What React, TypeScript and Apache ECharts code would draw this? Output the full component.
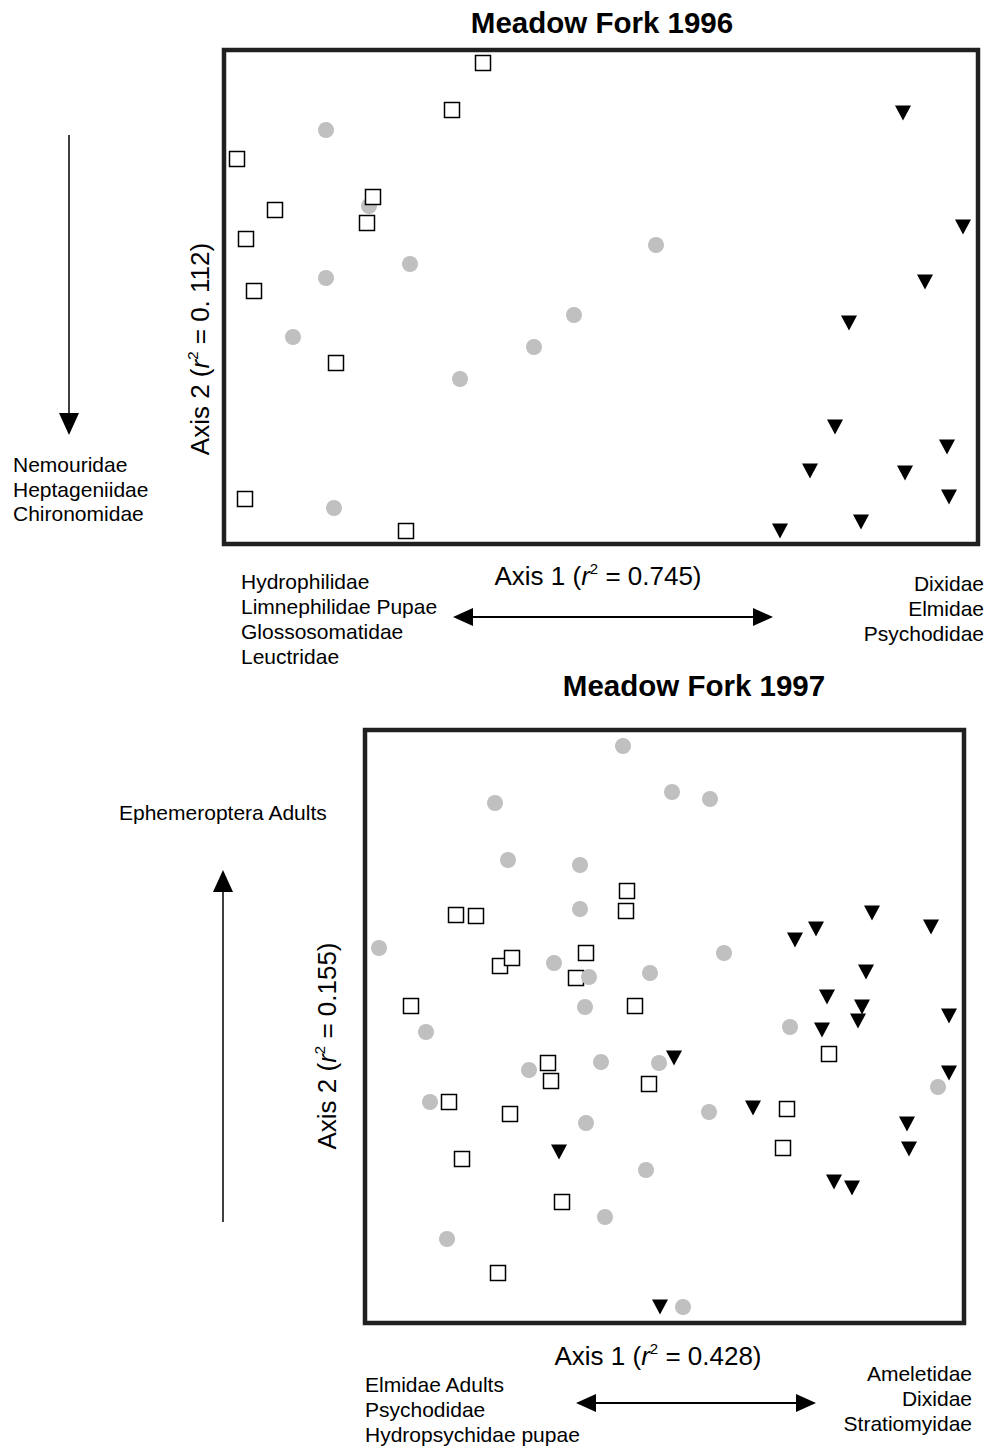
import React, { useEffect, useRef } from "react";
import * as echarts from "echarts";

const FONT = '"Liberation Sans", Arial, Helvetica, sans-serif';

// ---------- Meadow Fork 1996 (axis units) ----------
const axis1Range1996 = [0, 754];
const axis2Range1996 = [0, 494];
const circles1996: number[][] = [
  [102, 414], [145, 338], [186, 280], [102, 266], [432, 299],
  [69, 207], [236, 165], [310, 197], [350, 229], [110, 36],
];
const squares1996: number[][] = [
  [259, 481], [228, 434], [13, 385], [149, 347], [51, 334], [143, 321],
  [22, 305], [30, 253], [112, 181], [21, 45], [182, 13],
];
const triangles1996: number[][] = [
  [679, 431], [739, 317], [701, 262], [625, 221], [611, 117], [723, 97],
  [586, 73], [681, 71], [725, 47], [637, 22], [556, 13],
];

// ---------- Meadow Fork 1997 ----------
const axis1Range1997 = [0, 599];
const axis2Range1997 = [0, 593];
const circles1997: number[][] = [
  [258, 577], [130, 520], [307, 531], [345, 524], [143, 463], [215, 458],
  [215, 414], [14, 375], [359, 370], [189, 360], [224, 346], [285, 350],
  [220, 316], [425, 296], [61, 291], [164, 253], [236, 261], [294, 260],
  [573, 236], [65, 221], [344, 211], [221, 200], [281, 153], [240, 106],
  [82, 84], [318, 16],
];
const squares1997: number[][] = [
  [262, 432], [261, 412], [91, 408], [111, 407], [135, 357], [147, 365],
  [221, 370], [211, 345], [46, 317], [270, 317], [464, 269], [183, 260],
  [186, 242], [284, 239], [84, 221], [422, 214], [145, 209], [418, 175],
  [97, 164], [197, 121], [133, 50],
];
const triangles1997: number[][] = [
  [507, 410], [566, 396], [451, 394], [430, 383], [501, 351], [462, 326],
  [497, 316], [493, 302], [584, 307], [457, 293], [309, 265], [584, 250],
  [388, 215], [542, 199], [544, 174], [194, 171], [469, 141], [487, 135],
  [295, 16],
];

// ---------- texts ----------
const titles = ["Meadow Fork 1996", "Meadow Fork 1997"];
const axis1Labels = ["0.745", "0.428"];
const axis2Labels = ["0. 112", "0.155"];
const taxaAxis2Neg1996 = ["Nemouridae", "Heptageniidae", "Chironomidae"];
const taxaAxis1Neg1996 = ["Hydrophilidae", "Limnephilidae Pupae", "Glossosomatidae", "Leuctridae"];
const taxaAxis1Pos1996 = ["Dixidae", "Elmidae", "Psychodidae"];
const taxaAxis2Pos1997 = ["Ephemeroptera Adults"];
const taxaAxis1Neg1997 = ["Elmidae Adults", "Psychodidae", "Hydropsychidae pupae"];
const taxaAxis1Pos1997 = ["Ameletidae", "Dixidae", "Stratiomyidae"];

const richAxis = {
  a: { fontSize: 26, fontFamily: FONT, color: "#000", lineHeight: 30 },
  i: { fontSize: 26, fontFamily: FONT, color: "#000", fontStyle: "italic", lineHeight: 30 },
  s: { fontSize: 15, fontFamily: FONT, color: "#000", lineHeight: 15, verticalAlign: "top" },
};

function axisText(n: number, r2: string) {
  return `{a|Axis ${n} (}{i|r}{s|2}{a| = ${r2})}`;
}

function labelText(x: number, y: number, lines: string[], align: string, lh: number) {
  return {
    type: "text",
    x,
    y,
    silent: true,
    style: {
      text: lines.join("\n"),
      fontSize: 21,
      fontFamily: FONT,
      fill: "#000",
      align,
      verticalAlign: "top",
      lineHeight: lh,
    },
  };
}

function hArrow(x1: number, x2: number, y: number) {
  const L = 20, H = 9;
  return [
    { type: "line", silent: true, shape: { x1: x1 + L - 2, y1: y, x2: x2 - L + 2, y2: y }, style: { stroke: "#000", lineWidth: 2 } },
    { type: "polygon", silent: true, shape: { points: [[x1, y], [x1 + L, y - H], [x1 + L, y + H]] }, style: { fill: "#000" } },
    { type: "polygon", silent: true, shape: { points: [[x2, y], [x2 - L, y - H], [x2 - L, y + H]] }, style: { fill: "#000" } },
  ];
}

function vArrow(x: number, yTail: number, yTip: number) {
  const dir = yTip > yTail ? 1 : -1;
  const L = 22, H = 10;
  return [
    { type: "line", silent: true, shape: { x1: x, y1: yTail, x2: x, y2: yTip - dir * (L - 2) }, style: { stroke: "#000", lineWidth: 1.5 } },
    { type: "polygon", silent: true, shape: { points: [[x, yTip], [x - H, yTip - dir * L], [x + H, yTip - dir * L]] }, style: { fill: "#000" } },
  ];
}

const circleStyle = { color: "#c0c0c0", opacity: 1 };
const squareStyle = { color: "#ffffff", borderColor: "#000", borderWidth: 1.5, opacity: 1 };
const triStyle = { color: "#000", opacity: 1 };

function scatter(gi: number, data: number[][], kind: string) {
  const base: any = {
    type: "scatter",
    xAxisIndex: gi,
    yAxisIndex: gi,
    data,
    clip: false,
    silent: true,
  };
  if (kind === "circle") {
    base.symbol = "circle";
    base.symbolSize = 16;
    base.itemStyle = circleStyle;
  } else if (kind === "square") {
    base.symbol = "rect";
    base.symbolSize = 15;
    base.itemStyle = squareStyle;
  } else {
    base.symbol = "triangle";
    base.symbolRotate = 180;
    base.symbolSize = [16, 15];
    base.itemStyle = triStyle;
  }
  return base;
}

export default function App() {
  const ref = useRef<HTMLDivElement>(null);
  useEffect(() => {
    if (!ref.current) return;
    const chart = echarts.init(ref.current, undefined, { renderer: "svg" });
    const gridBase = {
      show: true,
      borderColor: "#202020",
      borderWidth: 4.5,
      backgroundColor: "rgba(0,0,0,0)",
    };
    const option: any = {
      animation: false,
      backgroundColor: "#ffffff",
      grid: [
        { ...gridBase, left: 224, top: 50, width: 754, height: 494 },
        { ...gridBase, left: 365, top: 730, width: 599, height: 593 },
      ],
      xAxis: [
        { gridIndex: 0, type: "value", min: axis1Range1996[0], max: axis1Range1996[1], show: false },
        { gridIndex: 1, type: "value", min: axis1Range1997[0], max: axis1Range1997[1], show: false },
      ],
      yAxis: [
        { gridIndex: 0, type: "value", min: axis2Range1996[0], max: axis2Range1996[1], show: false },
        { gridIndex: 1, type: "value", min: axis2Range1997[0], max: axis2Range1997[1], show: false },
      ],
      series: [
        scatter(0, circles1996, "circle"),
        scatter(0, squares1996, "square"),
        scatter(0, triangles1996, "triangle"),
        scatter(1, squares1997, "square"),
        scatter(1, circles1997, "circle"),
        scatter(1, triangles1997, "triangle"),
      ],
      graphic: [
        // titles
        { type: "text", x: 602, y: 22, silent: true, style: { text: titles[0], fontSize: 29.5, fontWeight: "bold", fontFamily: FONT, fill: "#000", align: "center", verticalAlign: "middle" } },
        { type: "text", x: 694, y: 685, silent: true, style: { text: titles[1], fontSize: 29.5, fontWeight: "bold", fontFamily: FONT, fill: "#000", align: "center", verticalAlign: "middle" } },
        // axis titles 1996
        { type: "text", x: 598, y: 576, silent: true, style: { text: axisText(1, axis1Labels[0]), rich: richAxis, align: "center", verticalAlign: "middle" } },
        { type: "text", x: 200, y: 349, rotation: Math.PI / 2, silent: true, style: { text: axisText(2, axis2Labels[0]), rich: richAxis, align: "center", verticalAlign: "middle" } },
        // axis titles 1997
        { type: "text", x: 658, y: 1356, silent: true, style: { text: axisText(1, axis1Labels[1]), rich: richAxis, align: "center", verticalAlign: "middle" } },
        { type: "text", x: 327, y: 1046, rotation: Math.PI / 2, silent: true, style: { text: axisText(2, axis2Labels[1]), rich: richAxis, align: "center", verticalAlign: "middle" } },
        // taxa labels 1996
        labelText(13, 452.5, taxaAxis2Neg1996, "left", 24.5),
        labelText(241, 568.5, taxaAxis1Neg1996, "left", 25),
        labelText(984, 570.5, taxaAxis1Pos1996, "right", 25),
        // taxa labels 1997
        labelText(119, 799.5, taxaAxis2Pos1997, "left", 25),
        labelText(365, 1371.5, taxaAxis1Neg1997, "left", 25),
        labelText(972, 1360.5, taxaAxis1Pos1997, "right", 25),
        // arrows
        ...vArrow(69, 135, 435),
        ...hArrow(453, 773, 617),
        ...vArrow(223, 1222, 870),
        ...hArrow(576, 816, 1403),
      ],
    };
    chart.setOption(option);
    return () => chart.dispose();
  }, []);
  return (
    <div
      ref={ref}
      style={{ position: "absolute", left: 0, top: 0, width: 988, height: 1446 }}
    />
  );
}
